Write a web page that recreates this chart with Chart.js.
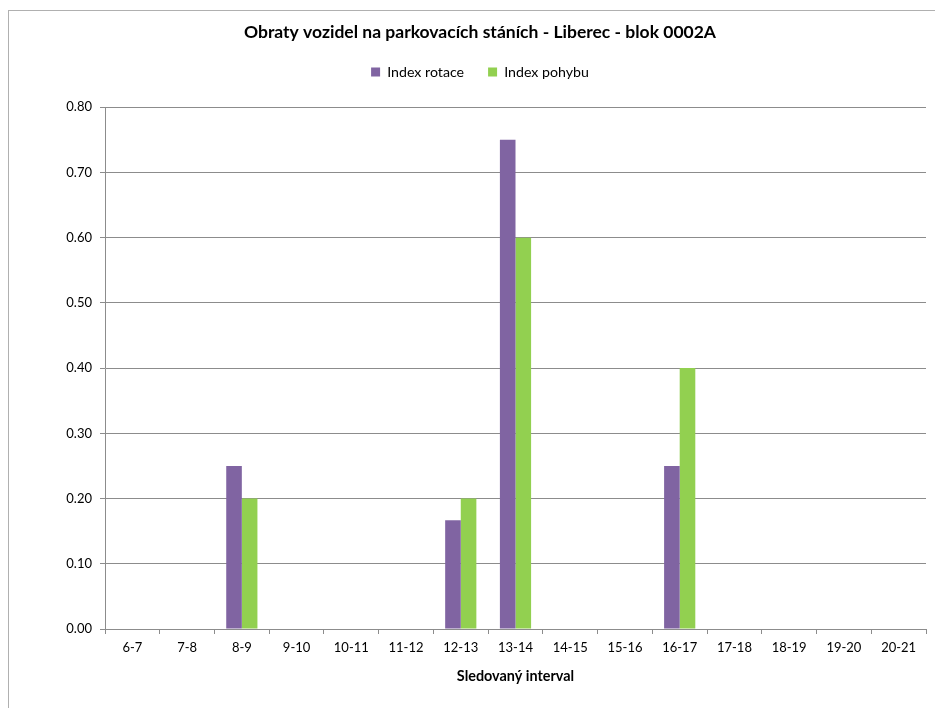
<!DOCTYPE html>
<html>
<head>
<meta charset="utf-8">
<script src="https://cdn.jsdelivr.net/npm/chart.js@4"></script>
<style>
    html, body { margin: 0; padding: 0; background: #fff; overflow: hidden; }
    #frame { position: absolute; left: 8px; top: 10px; width: 1000px; height: 1000px; border-left: 1px solid #b0b0b0; border-top: 1px solid #b0b0b0; }
    #wrap { position: absolute; left: 0; top: 0; width: 935px; height: 708px; }
</style>
</head>
<body>
<div id="frame"></div>
<div id="wrap"><canvas id="chartObraty"></canvas></div>
<script>
// data
const intervaly = ['6-7', '7-8', '8-9', '9-10', '10-11', '11-12', '12-13', '13-14', '14-15', '15-16', '16-17', '17-18', '18-19', '19-20', '20-21'];
const indexRotace = [0, 0, 0.25, 0, 0, 0, 0.1667, 0.75, 0, 0, 0.25, 0, 0, 0, 0];
const indexPohybu = [0, 0, 0.20, 0, 0, 0, 0.20, 0.60, 0, 0, 0.40, 0, 0, 0, 0];
const yTicks = [0, 0.1, 0.2, 0.3, 0.4, 0.5, 0.6, 0.7, 0.8];

const fontFam = 'Lato, "Open Sans", sans-serif';
const gridColor = '#8c8c8c';

// extra space under the legend
const legendGap = {
    id: 'legendGap',
    beforeLayout: (chart) => {
        const lg = chart.legend;
        if (lg && !lg._gapWrapped) {
            const fit = lg.fit.bind(lg);
            lg.fit = function () { fit(); this.height += 18; };
            lg._gapWrapped = true;
        }
    }
};

new Chart(document.getElementById('chartObraty'), {
    type: 'bar',
    data: {
        labels: intervaly,
        datasets: [
            { label: 'Index rotace', data: indexRotace, backgroundColor: '#8064A2' },
            { label: 'Index pohybu', data: indexPohybu, backgroundColor: '#92D050' }
        ]
    },
    options: {
        responsive: true,
        maintainAspectRatio: false,
        animation: false,
        events: [],
        layout: { padding: { left: 34, right: 9, top: 0, bottom: 0 } },
        datasets: { bar: { categoryPercentage: 0.57, barPercentage: 1.0 } },
        scales: {
            x: {
                grid: { offset: true, drawOnChartArea: false, tickLength: 5, color: gridColor },
                border: { color: gridColor },
                ticks: { color: '#000', padding: 6, maxRotation: 0, font: { family: fontFam, size: 13 } },
                title: { display: true, text: 'Sledovaný interval', color: '#000', font: { family: fontFam, size: 14.4, weight: 'bold' }, padding: { top: 0, bottom: 23 } },
                afterFit: (s) => { s.height = 79; }
            },
            y: {
                min: 0,
                max: 0.8,
                afterBuildTicks: (s) => { s.ticks = yTicks.map(v => ({ value: v })); },
                grid: { color: gridColor, tickLength: 5 },
                border: { color: gridColor },
                ticks: { color: '#000', padding: 8, font: { family: fontFam, size: 13 }, callback: (v) => Number(v).toFixed(2) },
                afterFit: (s) => { s.width = 71; }
            }
        },
        plugins: {
            title: {
                display: true,
                text: 'Obraty vozidel na parkovacích stáních - Liberec - blok 0002A',
                color: '#000',
                font: { family: fontFam, size: 17.5, weight: 'bold' },
                padding: { top: 22, bottom: -2 }
            },
            legend: {
                position: 'top',
                labels: { color: '#000', boxWidth: 9, boxHeight: 9, padding: 24, font: { family: fontFam, size: 14.2 } }
            },
            tooltip: { enabled: false }
        }
    },
    plugins: [legendGap]
});
</script>
</body>
</html>
